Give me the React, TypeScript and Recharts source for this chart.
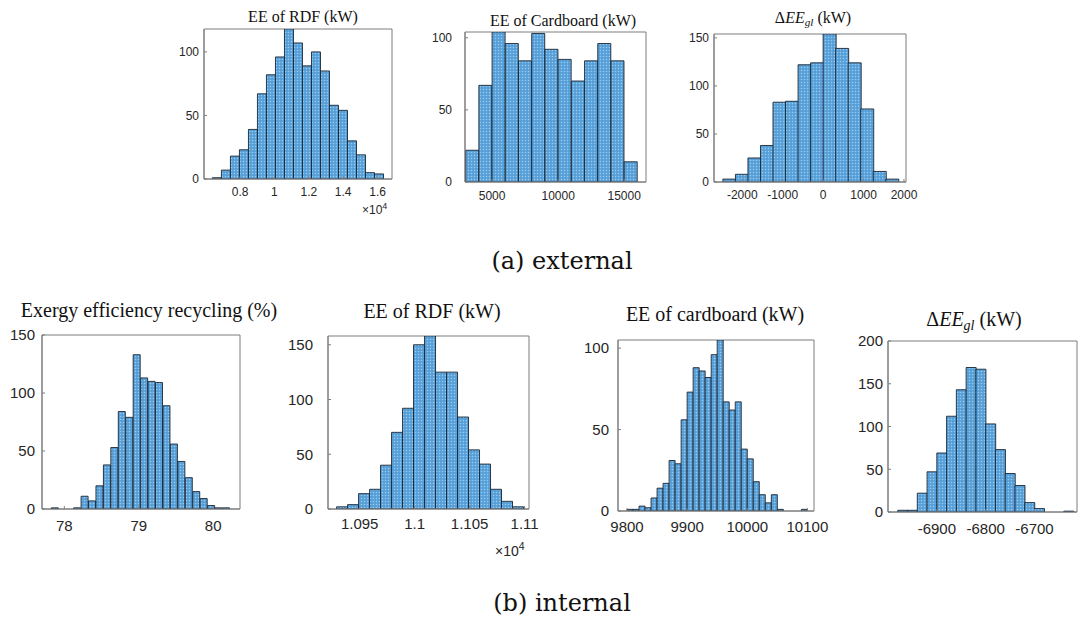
import React from "react";
import { BarChart, Bar, XAxis, YAxis, ReferenceArea } from "recharts";

// (a) external — bin counts
const extRdfCounts = [1, 7, 18, 23, 39, 67, 82, 96, 118, 107, 89, 100, 85, 58, 54, 30, 19, 5, 4];
const extRdfTicks = [0.8, 1, 1.2, 1.4, 1.6];

const extCardCounts = [22, 67, 104, 96, 84, 103, 92, 85, 70, 84, 96, 84, 14];
const extCardTicks = [5000, 10000, 15000];

const extDeltaCounts = [3, 8, 25, 38, 83, 84, 122, 124, 154, 139, 124, 76, 11, 3];
const extDeltaTicks = [-2000, -1000, 0, 1000, 2000];

// (b) internal
const intEffCounts = [1, 0, 0, 1, 11, 7, 20, 38, 53, 84, 79, 133, 113, 110, 109, 89, 56, 41, 27, 15, 9, 3, 1, 1];
const intEffTicks = [78, 79, 80];

const intRdfCounts = [2, 4, 14, 18, 40, 70, 92, 150, 158, 125, 125, 84, 54, 41, 18, 7, 2];
const intRdfTicks = [1.095, 1.1, 1.105, 1.11];

const intCardCounts = [1, 1, 3, 2, 8, 14, 17, 31, 29, 56, 73, 88, 86, 82, 96, 105, 67, 62, 67, 38, 32, 18, 10, 5, 10, 1, 0, 0, 0, 1];
const intCardTicks = [9800, 9900, 10000, 10100];

const intDeltaCounts = [2, 2, 22, 47, 69, 112, 143, 169, 167, 103, 73, 45, 31, 11, 4, 0, 0, 1];
const intDeltaTicks = [-6900, -6800, -6700];

const AXIS = "#7d7d7d";
const TICK_TEXT = "#262626";
const SANS = "'Liberation Sans', Arial, sans-serif";
const SERIF = "'Liberation Serif', 'Times New Roman', serif";

type HistProps = {
  id: string;
  counts: number[];
  binStart: number;
  binWidth: number;
  xDomain: [number, number];
  xTicks: number[];
  yMax: number;
  yTicks: number[];
  box: { left: number; top: number; width: number; height: number };
  fontSize: number;
  yGap: number;
  xGap: number;
};

const Hist = (p: HistProps) => {
  const yw = 60;
  const xh = 40;
  const padTop = 12;
  const padRight = 30;
  const data = p.counts.map((c, i) => ({ x: p.binStart + (i + 0.5) * p.binWidth, c }));
  const tickStyle = { fill: TICK_TEXT, fontSize: p.fontSize, fontFamily: SANS };
  return (
    <div style={{ position: "absolute", left: p.box.left - yw, top: p.box.top - padTop }}>
      <BarChart
        width={yw + p.box.width + padRight}
        height={padTop + p.box.height + xh}
        data={data}
        margin={{ top: padTop, right: padRight, bottom: 0, left: 0 }}
        barCategoryGap={0}
        barGap={0}
      >
        <defs>
          <pattern id={`dots-${p.id}`} width={3} height={3} patternUnits="userSpaceOnUse">
            <rect width={3} height={3} fill="#60a7dd" />
            <rect x={0} y={0} width={1} height={1} fill="#9ccbef" />
            <rect x={1.5} y={1.5} width={1} height={1} fill="#3a84c6" />
          </pattern>
        </defs>
        <XAxis
          xAxisId="b"
          dataKey="x"
          type="number"
          domain={p.xDomain}
          ticks={p.xTicks}
          allowDataOverflow
          interval={0}
          height={xh}
          tickSize={-3}
          tickMargin={p.xGap + 3}
          stroke={AXIS}
          tick={tickStyle}
        />
        <XAxis
          xAxisId="t"
          orientation="top"
          mirror
          dataKey="x"
          type="number"
          domain={p.xDomain}
          ticks={p.xTicks}
          allowDataOverflow
          height={0}
          tick={false}
          tickSize={3}
          stroke={AXIS}
        />
        <YAxis
          yAxisId="l"
          type="number"
          domain={[0, p.yMax]}
          ticks={p.yTicks}
          allowDataOverflow
          interval={0}
          width={yw}
          tickSize={-3}
          tickMargin={p.yGap + 3}
          stroke={AXIS}
          tick={tickStyle}
        />
        <YAxis
          yAxisId="r"
          orientation="right"
          mirror
          type="number"
          domain={[0, p.yMax]}
          ticks={p.yTicks}
          allowDataOverflow
          width={0}
          tick={false}
          tickSize={3}
          stroke={AXIS}
        />
        <ReferenceArea
          xAxisId="b"
          yAxisId="l"
          x1={p.xDomain[0]}
          x2={p.xDomain[1]}
          y1={0}
          y2={p.yMax}
          fill="none"
          stroke={AXIS}
          strokeWidth={1}
          ifOverflow="visible"
        />
        <Bar
          xAxisId="b"
          yAxisId="l"
          dataKey="c"
          fill={`url(#dots-${p.id})`}
          stroke="#1b2632"
          strokeWidth={0.9}
          isAnimationActive={false}
        />
      </BarChart>
    </div>
  );
};

const Title = ({ cx, baseline, size, children }: any) => (
  <div
    style={{
      position: "absolute",
      left: cx - 200,
      width: 400,
      top: baseline - 0.8375 * size,
      textAlign: "center",
      fontFamily: SERIF,
      fontSize: size,
      lineHeight: 1,
      whiteSpace: "nowrap",
      color: "#111",
    }}
  >
    {children}
  </div>
);

const DeltaTitle = () => (
  <span>
    Δ<i>EE</i>
    <i style={{ fontSize: "0.7em", verticalAlign: "-0.3em" }}>gl</i> (kW)
  </span>
);

const Exponent = ({ left, baseline, size }: any) => (
  <div
    style={{
      position: "absolute",
      left,
      top: baseline - 0.905 * size,
      fontFamily: SANS,
      fontSize: size,
      lineHeight: 1,
      color: TICK_TEXT,
      whiteSpace: "nowrap",
    }}
  >
    ×10<sup style={{ fontSize: "0.75em", verticalAlign: "0.55em", lineHeight: 0 }}>4</sup>
  </div>
);

const Caption = ({ cx, baseline, children }: any) => (
  <div
    style={{
      position: "absolute",
      left: cx - 200,
      width: 400,
      top: baseline - 20.3,
      textAlign: "center",
      fontFamily: "'DejaVu Serif', serif",
      fontSize: 24,
      lineHeight: 1,
      color: "#111",
    }}
  >
    {children}
  </div>
);

export default function App() {
  return (
    <div
      style={{
        position: "absolute",
        left: 0,
        top: 0,
        width: 1078,
        height: 619,
        overflow: "hidden",
        background: "#fff",
      }}
    >
      <Hist
        id="a1"
        counts={extRdfCounts}
        binStart={0.639}
        binWidth={0.0524}
        xDomain={[0.59, 1.684]}
        xTicks={extRdfTicks}
        yMax={118}
        yTicks={[0, 50, 100]}
        box={{ left: 204, top: 29, width: 188, height: 150 }}
        fontSize={12}
        yGap={5}
        xGap={8}
      />
      <Hist
        id="a2"
        counts={extCardCounts}
        binStart={3000}
        binWidth={1000}
        xDomain={[2950, 16650]}
        xTicks={extCardTicks}
        yMax={104}
        yTicks={[0, 50, 100]}
        box={{ left: 465, top: 32, width: 181, height: 150 }}
        fontSize={12}
        yGap={13}
        xGap={9}
      />
      <Hist
        id="a3"
        counts={extDeltaCounts}
        binStart={-2480}
        binWidth={310}
        xDomain={[-2700, 2050]}
        xTicks={extDeltaTicks}
        yMax={154}
        yTicks={[0, 50, 100, 150]}
        box={{ left: 714, top: 34, width: 192, height: 148 }}
        fontSize={12}
        yGap={5}
        xGap={8}
      />
      <Hist
        id="b1"
        counts={intEffCounts}
        binStart={77.825}
        binWidth={0.1}
        xDomain={[77.7, 80.36]}
        xTicks={intEffTicks}
        yMax={150}
        yTicks={[0, 50, 100, 150]}
        box={{ left: 42, top: 335, width: 198, height: 174 }}
        fontSize={15}
        yGap={7}
        xGap={11}
      />
      <Hist
        id="b2"
        counts={intRdfCounts}
        binStart={1.0929}
        binWidth={0.001}
        xDomain={[1.09212, 1.1104]}
        xTicks={intRdfTicks}
        yMax={158}
        yTicks={[0, 50, 100, 150]}
        box={{ left: 328, top: 336, width: 201, height: 173 }}
        fontSize={15}
        yGap={15}
        xGap={9}
      />
      <Hist
        id="b3"
        counts={intCardCounts}
        binStart={9800}
        binWidth={10}
        xDomain={[9785, 10111]}
        xTicks={intCardTicks}
        yMax={105}
        yTicks={[0, 50, 100]}
        box={{ left: 618, top: 340, width: 196, height: 171 }}
        fontSize={15}
        yGap={9}
        xGap={10}
      />
      <Hist
        id="b4"
        counts={intDeltaCounts}
        binStart={-6980}
        binWidth={20}
        xDomain={[-7000, -6613]}
        xTicks={intDeltaTicks}
        yMax={200}
        yTicks={[0, 50, 100, 150, 200]}
        box={{ left: 888, top: 341, width: 189, height: 171 }}
        fontSize={15}
        yGap={5}
        xGap={11}
      />

      <Title cx={303} baseline={22} size={16}>EE of RDF (kW)</Title>
      <Title cx={563} baseline={26} size={16}>EE of Cardboard (kW)</Title>
      <Title cx={813} baseline={23} size={16}>
        <DeltaTitle />
      </Title>
      <Exponent left={362} baseline={215} size={12} />
      <Caption cx={562} baseline={269}>(a) external</Caption>

      <Title cx={149} baseline={317} size={20}>Exergy efficiency recycling (%)</Title>
      <Title cx={432} baseline={318} size={20}>EE of RDF (kW)</Title>
      <Title cx={715} baseline={321} size={20}>EE of cardboard (kW)</Title>
      <Title cx={974} baseline={326} size={20}>
        <DeltaTitle />
      </Title>
      <Exponent left={495} baseline={557} size={14} />
      <Caption cx={562} baseline={611}>(b) internal</Caption>
    </div>
  );
}
